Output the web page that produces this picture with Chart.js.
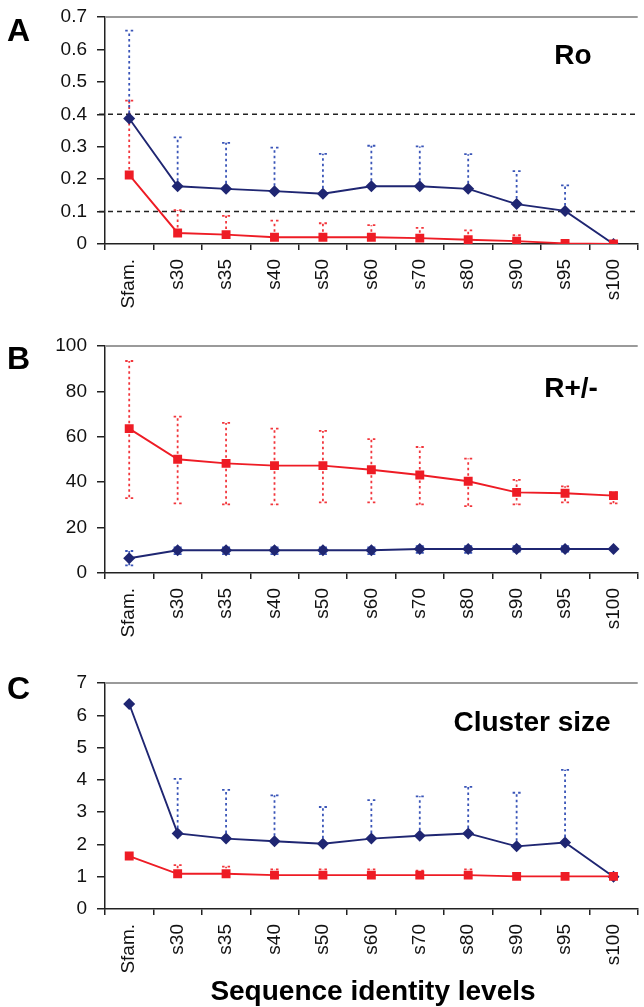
<!DOCTYPE html>
<html>
<head>
<meta charset="utf-8">
<script src="https://cdn.jsdelivr.net/npm/chart.js@4.4.1/dist/chart.umd.min.js"></script>
<style>
  body { margin: 0; background: #fff; width: 644px; height: 1007px; position: relative; overflow: hidden; font-family: "Liberation Sans", Arial, sans-serif; }
  canvas { position: absolute; left: 0; }
  .lbl { position: absolute; font-weight: bold; line-height: 1; color: #000; white-space: nowrap; }
  .ttl { text-align: center; width: 240px; }
</style>
</head>
<body>
<canvas id="chartA" width="644" height="330" style="top:0"></canvas>
<canvas id="chartB" width="644" height="330" style="top:330px"></canvas>
<canvas id="chartC" width="644" height="347" style="top:660px"></canvas>

<div class="lbl" style="left:7px;top:14px;font-size:32px">A</div>
<div class="lbl" style="left:7px;top:342px;font-size:32px">B</div>
<div class="lbl" style="left:7px;top:672px;font-size:32px">C</div>
<div class="lbl ttl" style="left:453px;top:41px;font-size:28px">Ro</div>
<div class="lbl ttl" style="left:451px;top:374px;font-size:28px">R+/-</div>
<div class="lbl ttl" style="left:412px;top:708px;font-size:28px">Cluster size</div>
<div class="lbl ttl" style="left:173px;top:977px;width:400px;font-size:28px">Sequence identity levels</div>

<script>
// categories
const levels = ['Sfam.', 's30', 's35', 's40', 's50', 's60', 's70', 's80', 's90', 's95', 's100'];

// A: Ro
const roBlue   = [0.387, 0.178, 0.170, 0.163, 0.155, 0.178, 0.178, 0.170, 0.123, 0.102, 0.0];
const roBlueHi = [0.658, 0.329, 0.312, 0.297, 0.278, 0.303, 0.301, 0.277, 0.225, 0.181, null];
const roRed    = [0.213, 0.034, 0.029, 0.021, 0.021, 0.021, 0.018, 0.013, 0.009, 0.002, 0.0];
const roRedHi  = [0.442, 0.104, 0.087, 0.072, 0.064, 0.058, 0.050, 0.042, 0.027, 0.007, null];
const roRefLines = [0.4, 0.1];

// B: R+/-
const rpmRed    = [63.6, 50.1, 48.3, 47.3, 47.3, 45.5, 43.2, 40.4, 35.5, 35.1, 34.1];
const rpmRedHi  = [93.4, 68.9, 66.1, 63.6, 62.6, 59.0, 55.5, 50.4, 41.0, 38.2, 35.5];
const rpmRedLo  = [33.0, 30.7, 30.2, 30.2, 31.1, 31.1, 30.2, 29.5, 30.2, 31.1, 30.7];
const rpmBlue   = [6.5, 10.0, 10.0, 10.0, 10.0, 10.0, 10.6, 10.6, 10.6, 10.6, 10.6];
const rpmBlueHi = [9.7, 11.3, 11.3, 11.3, 11.3, 11.3, 11.8, 11.8, 11.8, 11.8, null];
const rpmBlueLo = [3.4, 8.3, 8.3, 8.3, 8.3, 8.3, 8.9, 8.9, 9.4, 9.4, null];

// C: Cluster size
const csBlue   = [6.35, 2.34, 2.18, 2.10, 2.02, 2.18, 2.27, 2.34, 1.94, 2.06, 1.0];
const csBlueHi = [null, 4.03, 3.69, 3.52, 3.16, 3.37, 3.49, 3.78, 3.60, 4.31, null];
const csRed    = [1.64, 1.09, 1.09, 1.05, 1.05, 1.05, 1.05, 1.05, 1.01, 1.01, 1.01];
const csRedHi  = [null, 1.36, 1.31, 1.23, 1.23, 1.23, 1.19, 1.23, 1.11, null, null];

const NAVY = '#1f2672';
const RED = '#ee1c25';
const FONT = '"Liberation Sans", Arial, sans-serif';

// dotted error bars, dashed reference lines and the grey top border
const extras = {
  id: 'extras',
  beforeDatasetsDraw(chart) {
    const ctx = chart.ctx;
    const area = chart.chartArea;
    const xs = chart.scales.x, ys = chart.scales.y;
    ctx.save();
    // top border
    ctx.strokeStyle = '#9a9a9a';
    ctx.lineWidth = 2;
    ctx.beginPath();
    ctx.moveTo(area.left, area.top);
    ctx.lineTo(area.right, area.top);
    ctx.stroke();
    // reference lines
    (chart.options.refLines || []).forEach(v => {
      const y = ys.getPixelForValue(v);
      ctx.strokeStyle = '#222';
      ctx.lineWidth = 1.5;
      ctx.setLineDash([5, 4]);
      ctx.beginPath();
      ctx.moveTo(area.left - 6, y);
      ctx.lineTo(area.right, y);
      ctx.stroke();
    });
    // error bars
    chart.data.datasets.forEach(ds => {
      ctx.strokeStyle = ds.errColor;
      ctx.lineWidth = 1.8;
      ctx.setLineDash([2.5, 3]);
      ds.data.forEach((v, i) => {
        const x = xs.getPixelForValue(i);
        const y0 = ys.getPixelForValue(v);
        [ds.errHi, ds.errLo].forEach(arr => {
          if (!arr || arr[i] == null) return;
          const y1 = ys.getPixelForValue(arr[i]);
          ctx.beginPath();
          ctx.moveTo(x, y0);
          ctx.lineTo(x, y1);
          ctx.moveTo(x - 4, y1);
          ctx.lineTo(x + 4, y1);
          ctx.stroke();
        });
      });
    });
    ctx.restore();
  }
};

function makeChart(id, opts) {
  const ctx = document.getElementById(id).getContext('2d');
  return new Chart(ctx, {
    type: 'line',
    data: {
      labels: levels,
      datasets: [
        {
          data: opts.red, errHi: opts.redHi, errLo: opts.redLo, errColor: '#f2363c',
          borderColor: RED, backgroundColor: RED, borderWidth: 1.9,
          pointStyle: 'rect', pointRadius: 6.3, pointBorderWidth: 0, tension: 0
        },
        {
          data: opts.blue, errHi: opts.blueHi, errLo: opts.blueLo, errColor: '#3a55b8',
          borderColor: NAVY, backgroundColor: NAVY, borderWidth: 1.9,
          pointStyle: 'rectRot', pointRadius: 6, pointBorderWidth: 0, tension: 0
        }
      ]
    },
    options: {
      responsive: false,
      animation: false,
      refLines: opts.refLines,
      layout: { padding: { top: opts.top, left: 0, right: 0, bottom: 0 } },
      plugins: { legend: { display: false }, tooltip: { enabled: false } },
      scales: {
        x: {
          offset: true,
          grid: { offset: true, drawOnChartArea: false, tickLength: 6, color: '#222', lineWidth: 1.5 },
          border: { color: '#222', width: 1.5 },
          ticks: { minRotation: 90, maxRotation: 90, padding: 9, color: '#111', font: { family: FONT, size: 19 } },
          afterFit: s => { s.height = opts.xh; s.paddingLeft = 0; s.paddingRight = 0; }
        },
        y: {
          min: opts.min, max: opts.max,
          ticks: { stepSize: opts.step, padding: 10, color: '#111', font: { family: FONT, size: 19 } },
          grid: { drawOnChartArea: false, tickLength: 8, color: '#222', lineWidth: 1.5 },
          border: { color: '#222', width: 1.5 },
          afterFit: s => { s.width = 105; s.paddingTop = 0; s.paddingBottom = 0; }
        }
      }
    },
    plugins: [extras]
  });
}

makeChart('chartA', {
  red: roRed, redHi: roRedHi, blue: roBlue, blueHi: roBlueHi,
  refLines: roRefLines, min: 0, max: 0.7, step: 0.1, top: 17, xh: 86
});
makeChart('chartB', {
  red: rpmRed, redHi: rpmRedHi, redLo: rpmRedLo, blue: rpmBlue, blueHi: rpmBlueHi, blueLo: rpmBlueLo,
  min: 0, max: 100, step: 20, top: 16, xh: 87
});
makeChart('chartC', {
  red: csRed, redHi: csRedHi, blue: csBlue, blueHi: csBlueHi,
  min: 0, max: 7, step: 1, top: 23, xh: 98
});
</script>
</body>
</html>
